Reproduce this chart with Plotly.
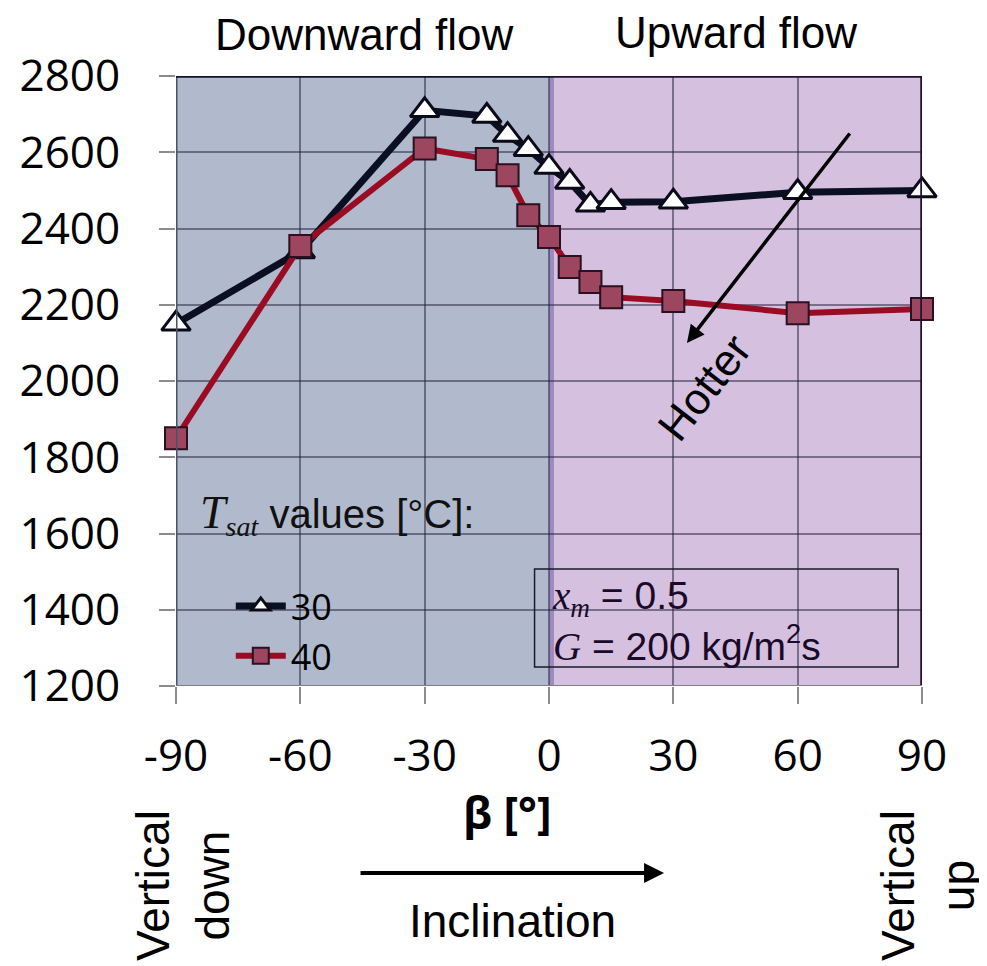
import plotly.graph_objects as go

# ---- data ----
beta = [-90, -60, -30, -15, -10, -5, 0, 5, 10, 15, 30, 60, 90]
htc_30 = [2150, 2340, 2710, 2695, 2645, 2608, 2561, 2522, 2462, 2469, 2470, 2495, 2500]
htc_40 = [1850, 2354, 2610, 2582, 2540, 2435, 2378, 2299, 2260, 2220, 2210, 2178, 2189]
series_names = ["30", "40"]
x_ticks = [-90, -60, -30, 0, 30, 60, 90]
y_ticks = [1200, 1400, 1600, 1800, 2000, 2200, 2400, 2600, 2800]

OFF = 8  # page body margin
W, H = 987 - OFF, 966 - OFF
L, T = 173 - OFF, 76 - OFF
R = W - (922 - OFF)
B = H - (686 - OFF)
PW = W - L - R
PH = H - T - B


def px(xs):
    """screen x pixel -> paper"""
    return (xs - OFF - L) / PW


def py(ys):
    """screen y pixel -> paper"""
    return (T + PH - (ys - OFF)) / PH


fig = go.Figure()

fig.add_trace(go.Scatter(
    x=beta, y=htc_30, name=series_names[0], mode="lines+markers",
    line=dict(color="#0A0F22", width=7),
    marker=dict(symbol="triangle-up", size=25, color="white",
                line=dict(color="#0A0A18", width=3)),
    cliponaxis=False, legendgroup="a",
))
fig.add_trace(go.Scatter(
    x=beta, y=htc_40, name=series_names[1], mode="lines+markers",
    line=dict(color="#9A0C24", width=6),
    marker=dict(symbol="square", size=22, color="#9C4660",
                line=dict(color="#2A1020", width=2)),
    cliponaxis=False, legendgroup="b",
))

shapes = [
    dict(type="rect", xref="x", yref="y", x0=-90, x1=0, y0=1200, y1=2800,
         fillcolor="#B1BACD", line=dict(width=0), layer="below"),
    dict(type="rect", xref="x", yref="y", x0=0, x1=90, y0=1200, y1=2800,
         fillcolor="#D5C0E0", line=dict(width=0), layer="below"),
    dict(type="rect", xref="x", yref="y", x0=0, x1=1.2, y0=1200, y1=2800,
         fillcolor="#9E8AC2", line=dict(width=0), layer="below"),
    # frame
    dict(type="line", xref="x", yref="y", x0=-90, x1=-90, y0=1200, y1=2800,
         line=dict(color="#4A5366", width=3)),
    dict(type="line", xref="x", yref="y", x0=-90, x1=0, y0=2800, y1=2800,
         line=dict(color="#0B1426", width=3.5)),
    dict(type="line", xref="x", yref="y", x0=0, x1=90, y0=2800, y1=2800,
         line=dict(color="#22102F", width=3.5)),
    dict(type="line", xref="x", yref="y", x0=90, x1=90, y0=1200, y1=2800,
         line=dict(color="#22102F", width=3.5)),
    dict(type="line", xref="x", yref="y", x0=-90, x1=90, y0=1200, y1=1200,
         line=dict(color="#7F7F7F", width=2)),
    # parameter box
    dict(type="rect", xref="paper", yref="paper", x0=px(533), x1=px(898),
         y0=py(667), y1=py(569), line=dict(color="#1A1A2A", width=1.5)),
]

arial = "Liberation Sans, Arial"


def ann(text, xs, ys, size, family=arial, **kw):
    d = dict(text=text, x=px(xs), y=py(ys), xref="paper", yref="paper",
             xanchor="center", yanchor="middle", showarrow=False,
             font=dict(family=family, size=size, color=kw.pop("color", "black")))
    d.update(kw)
    return d


annotations = [
    ann("Downward flow", 362, 35, 44),
    ann("Upward flow", 735, 33, 44),
    ann("<b>β [°]</b>", 505, 812, 44, family="Open Sans"),
    ann("Inclination", 511, 921, 46),
    dict(text="", x=px(663), y=py(873), ax=-305, ay=0, xref="paper", yref="paper",
         showarrow=True, arrowhead=2, arrowsize=1, arrowwidth=4, arrowcolor="black"),
    ann("Vertical<br>down", 180, 885, 46, textangle=-90, align="center"),
    ann("Vertical<br>up", 928, 885, 46, textangle=-90, align="center"),
    ann("Hotter", 703, 387, 44, textangle=-52),
    dict(text="", x=px(686), y=py(343), ax=164, ay=-211, xref="paper", yref="paper",
         showarrow=True, arrowhead=2, arrowsize=1, arrowwidth=3.5, arrowcolor="black"),
    ann(("<span style='font-family:Liberation Serif;font-size:46px'><i>T</i></span>"
         "<sub><span style='font-family:Liberation Serif'><i>sat</i></span></sub>"
         " values [°C]:"), 195, 515, 40, xanchor="left", color="#111"),
    ann(("<span style='font-family:Liberation Serif'><i>x</i></span>"
         "<sub><span style='font-family:Liberation Serif'><i>m</i></span></sub> = 0.5<br>"
         "<span style='font-family:Liberation Serif'><i>G</i></span> = 200 kg/m<sup>2</sup>s"),
        549, 621, 39, xanchor="left", align="left", color="#1A0A28"),
]

fig.update_layout(
    width=W, height=H,
    margin=dict(l=L, r=R, t=T, b=B),
    paper_bgcolor="white", plot_bgcolor="white",
    shapes=shapes, annotations=annotations,
    showlegend=True,
    legend=dict(x=px(228), y=py(576), xanchor="left", yanchor="top",
                bgcolor="rgba(0,0,0,0)", font=dict(family="Open Sans", size=36, color="black"),
                tracegroupgap=0, itemwidth=50),
    xaxis=dict(range=[-90, 90], tickvals=x_ticks, ticktext=[str(v) for v in x_ticks],
               showgrid=True, gridcolor="rgba(30,30,55,0.5)", gridwidth=2,
               ticks="outside", ticklen=17, tickwidth=2, tickcolor="#8C8C8C",
               ticklabelstandoff=14, zeroline=False, showline=False,
               tickfont=dict(family="Open Sans", size=44, color="black")),
    yaxis=dict(range=[1200, 2800], tickvals=y_ticks, ticktext=[str(v) for v in y_ticks],
               showgrid=True, gridcolor="rgba(30,30,55,0.5)", gridwidth=2,
               ticks="outside", ticklen=16, tickwidth=2, tickcolor="#8C8C8C",
               ticklabelstandoff=30, zeroline=False, showline=False,
               tickfont=dict(family="Open Sans", size=44, color="black")),
)

fig.write_html("out.html")
